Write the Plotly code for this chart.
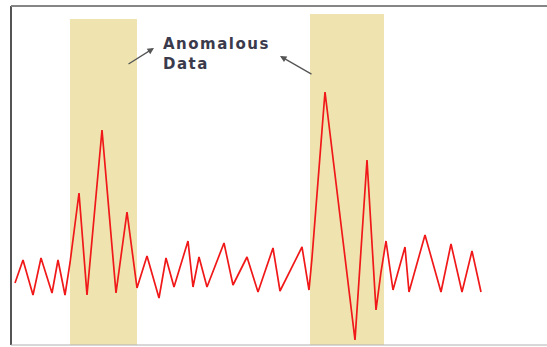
import plotly.graph_objects as go

# Signal samples (time, amplitude)
time = [4, 12, 22, 30, 41, 47, 54, 59, 68, 76, 91, 105, 116, 126, 136, 148, 155, 163,
        177, 182, 188, 196, 213, 222, 236, 247, 262, 269, 291, 298, 301, 314, 344, 356,
        365, 370, 375, 382, 394, 398, 414, 430, 440, 451, 461, 470]
amplitude = [62, 85, 50, 87, 52, 85, 50, 82, 152, 50, 215, 52, 133, 57, 89, 47, 87, 58,
             104, 58, 88, 58, 102, 60, 88, 53, 97, 54, 98, 55, 87, 253, 5, 185,
             35, 73, 104, 55, 98, 53, 110, 53, 101, 53, 94, 53]

# Anomalous regions (time start, time end, top)
anomaly_start = [59, 299]
anomaly_end = [126, 373]
anomaly_top = [326, 331]

label_lines = ["Anomalous", "Data"]

fig = go.Figure()

for s, e, top in zip(anomaly_start, anomaly_end, anomaly_top):
    fig.add_shape(type="rect", xref="x", yref="y", x0=s, x1=e, y0=0, y1=top,
                  fillcolor="#EFE4B0", line_width=0, layer="below")

fig.add_trace(go.Scatter(x=time, y=amplitude, mode="lines",
                         line=dict(color="#F01818", width=1.7),
                         hoverinfo="skip", showlegend=False))

# frame lines
fig.add_shape(type="line", xref="paper", yref="paper", x0=0, x1=0, y0=0, y1=1,
              line=dict(color="#555555", width=2))
fig.add_shape(type="line", xref="paper", yref="paper", x0=0, x1=1, y0=1, y1=1,
              line=dict(color="#858585", width=2))
fig.add_shape(type="line", xref="paper", yref="paper", x0=0, x1=1, y0=0, y1=0,
              line=dict(color="#B0B0B0", width=1))

sp = "\u200a"
label = "<br>".join(sp.join(line) for line in label_lines)
fig.add_annotation(x=150, y=291, xref="x", yref="y", text=label, align="left",
                   showarrow=False, xanchor="left", yanchor="middle",
                   font=dict(family="DejaVu Sans", size=15, color="#3A3A4C", weight="bold"))

# arrows
fig.add_annotation(x=143, y=297, ax=116, ay=280, xref="x", yref="y", axref="x", ayref="y",
                   text="", showarrow=True, arrowhead=2, arrowsize=1, arrowwidth=1.3,
                   arrowcolor="#555555")
fig.add_annotation(x=269, y=289, ax=302, ay=270, xref="x", yref="y", axref="x", ayref="y",
                   text="", showarrow=True, arrowhead=2, arrowsize=1, arrowwidth=1.3,
                   arrowcolor="#555555")

fig.update_layout(width=547, height=347, margin=dict(l=11, r=0, t=6, b=2),
                  paper_bgcolor="white", plot_bgcolor="white",
                  xaxis=dict(range=[0, 536], visible=False, fixedrange=True),
                  yaxis=dict(range=[0, 339], visible=False, fixedrange=True))

fig.write_html("out.html", config={"displayModeBar": False},
               post_script="document.body.style.margin='0px';document.body.style.overflow='hidden';")
